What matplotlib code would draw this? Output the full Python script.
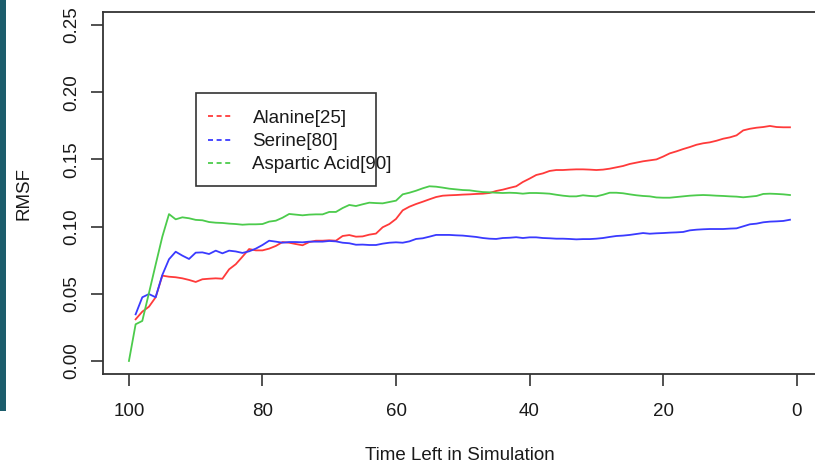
import numpy as np
import matplotlib
matplotlib.use("Agg")
import matplotlib.pyplot as plt
from matplotlib.patches import Rectangle
from matplotlib.lines import Line2D

plt.rcParams['font.family'] = ['Liberation Sans', 'DejaVu Sans']
plt.rcParams['lines.scale_dashes'] = False

# time remaining in the simulation (100 -> 1)
time_left = np.arange(100, 0, -1)

alanine_25 = [np.nan,
    0.0310, 0.0367, 0.0404, 0.0474, 0.0635, 0.0627, 0.0623, 0.0615, 0.0603, 0.0588,
    0.0608, 0.0612, 0.0615, 0.0612, 0.0682, 0.0720, 0.0776, 0.0833, 0.0823, 0.0823,
    0.0836, 0.0856, 0.0885, 0.0880, 0.0870, 0.0861, 0.0885, 0.0895, 0.0895, 0.0898,
    0.0895, 0.0930, 0.0937, 0.0925, 0.0927, 0.0940, 0.0948, 0.0995, 0.1019, 0.1057,
    0.1121, 0.1148, 0.1168, 0.1185, 0.1203, 0.1220, 0.1230, 0.1233, 0.1235, 0.1238,
    0.1240, 0.1243, 0.1245, 0.1250, 0.1265, 0.1275, 0.1288, 0.1300, 0.1332, 0.1357,
    0.1384, 0.1396, 0.1414, 0.1421, 0.1421, 0.1424, 0.1426, 0.1426, 0.1424, 0.1421,
    0.1424, 0.1431, 0.1441, 0.1451, 0.1466, 0.1476, 0.1486, 0.1493, 0.1500, 0.1521,
    0.1545, 0.1560, 0.1577, 0.1592, 0.1609, 0.1620, 0.1627, 0.1639, 0.1654, 0.1664,
    0.1679, 0.1716, 0.1728, 0.1736, 0.1741, 0.1749, 0.1741, 0.1739, 0.1739]

serine_80 = [np.nan,
    0.0347, 0.0474, 0.0498, 0.0474, 0.0640, 0.0757, 0.0813, 0.0784, 0.0759, 0.0806,
    0.0808, 0.0796, 0.0821, 0.0801, 0.0821, 0.0815, 0.0804, 0.0816, 0.0836, 0.0863,
    0.0895, 0.0888, 0.0880, 0.0885, 0.0885, 0.0883, 0.0888, 0.0888, 0.0888, 0.0893,
    0.0890, 0.0880, 0.0876, 0.0865, 0.0866, 0.0863, 0.0863, 0.0873, 0.0880, 0.0883,
    0.0880, 0.0890, 0.0908, 0.0913, 0.0925, 0.0938, 0.0938, 0.0938, 0.0935, 0.0933,
    0.0928, 0.0923, 0.0915, 0.0910, 0.0908, 0.0915, 0.0917, 0.0921, 0.0915, 0.0920,
    0.0920, 0.0915, 0.0913, 0.0910, 0.0910, 0.0908, 0.0905, 0.0907, 0.0907, 0.0910,
    0.0915, 0.0923, 0.0930, 0.0933, 0.0938, 0.0945, 0.0952, 0.0947, 0.0950, 0.0952,
    0.0955, 0.0957, 0.0960, 0.0972, 0.0977, 0.0980, 0.0982, 0.0982, 0.0982, 0.0985,
    0.0987, 0.1002, 0.1017, 0.1022, 0.1032, 0.1037, 0.1039, 0.1042, 0.1051]

aspartic_acid_90 = [
    0.0000, 0.0273, 0.0298, 0.0506, 0.0717, 0.0925, 0.1093, 0.1054, 0.1069, 0.1062,
    0.1050, 0.1047, 0.1034, 0.1029, 0.1027, 0.1022, 0.1019, 0.1014, 0.1017, 0.1017,
    0.1019, 0.1037, 0.1044, 0.1066, 0.1094, 0.1089, 0.1084, 0.1089, 0.1091, 0.1091,
    0.1109, 0.1109, 0.1138, 0.1161, 0.1153, 0.1166, 0.1178, 0.1175, 0.1173, 0.1183,
    0.1193, 0.1240, 0.1252, 0.1267, 0.1285, 0.1300, 0.1297, 0.1290, 0.1282, 0.1277,
    0.1272, 0.1270, 0.1263, 0.1257, 0.1255, 0.1252, 0.1250, 0.1252, 0.1250, 0.1245,
    0.1250, 0.1250, 0.1248, 0.1245, 0.1237, 0.1230, 0.1225, 0.1225, 0.1233, 0.1228,
    0.1225, 0.1237, 0.1252, 0.1252, 0.1248, 0.1240, 0.1233, 0.1228, 0.1225, 0.1217,
    0.1215, 0.1215, 0.1220, 0.1225, 0.1230, 0.1233, 0.1235, 0.1233, 0.1230, 0.1228,
    0.1225, 0.1223, 0.1218, 0.1223, 0.1228, 0.1243, 0.1245, 0.1243, 0.1240, 0.1235]

series_labels = ["Alanine[25]", "Serine[80]", "Aspartic Acid[90]"]
series_colors = ["#ff3a3a", "#3a3aff", "#4ccb4c"]

x_ticks = [100, 80, 60, 40, 20, 0]
y_ticks = [0.00, 0.05, 0.10, 0.15, 0.20, 0.25]
y_tick_labels = ["0.00", "0.05", "0.10", "0.15", "0.20", "0.25"]

W, H = 815, 465
FS = 13.5
AXC = "#333333"


def fpx(x, y):
    """pixel position (from top-left) -> figure fraction"""
    return x / W, 1 - y / H


fig = plt.figure(figsize=(W / 100, H / 100), dpi=100)
fig.patch.set_facecolor("white")

# dark side bar on the left edge
x0, y0 = fpx(0, 411)
fig.patches.append(Rectangle((x0, y0), 6 / W, 411 / H, transform=fig.transFigure,
                             facecolor="#1c5d6c", edgecolor="none"))

left, right, top, bottom = 102.5, 816.4, 11.6, 374.4
ax = fig.add_axes([left / W, 1 - bottom / H, (right - left) / W, (bottom - top) / H])

for vals, col in zip([alanine_25, serine_80, aspartic_acid_90], series_colors):
    ax.plot(time_left, vals, color=col, lw=1.3, solid_joinstyle="round")

ax.set_xlim(103.96, -2.96)
ax.set_ylim(-0.01, 0.26)
ax.set_xticks(x_ticks)
ax.set_xticklabels([str(v) for v in x_ticks])
ax.set_yticks(y_ticks)
ax.set_yticklabels(y_tick_labels)

for sp in ax.spines.values():
    sp.set_color(AXC)
    sp.set_linewidth(1.3)
ax.tick_params(axis="both", direction="out", length=8.6, width=1.2, color=AXC,
               labelsize=FS, labelcolor="#1a1a1a")
ax.tick_params(axis="x", pad=12.0)
ax.tick_params(axis="y", pad=7.5, labelrotation=90)
for lab in ax.get_yticklabels():
    lab.set_va("center")

# axis titles
fig.text(*fpx(459.5, 459.5), "Time Left in Simulation", ha="center", va="baseline",
         fontsize=FS, color="#1a1a1a")
fig.text(*fpx(29.0, 193.0), "RMSF", ha="center", va="baseline", rotation=90,
         rotation_mode="anchor", fontsize=FS, color="#1a1a1a")

# legend
lx0, ly0 = fpx(195.7, 186.0)
fig.patches.append(Rectangle((lx0, ly0), (376.0 - 195.7) / W, (186.0 - 93.3) / H,
                             transform=fig.transFigure, facecolor="none",
                             edgecolor=AXC, linewidth=1.2))
for i, (lab, col) in enumerate(zip(series_labels, series_colors)):
    yc = 116.5 + 23.0 * i
    xa, ya = fpx(208.0, yc)
    xb, _ = fpx(233.0, yc)
    fig.lines.append(Line2D([xa, xb], [ya, ya], transform=fig.transFigure, color=col,
                            lw=1.3, dashes=(3.6, 2.6)))
    fig.text(*fpx(252.5, yc + 6.7), lab, ha="left", va="baseline", fontsize=FS,
             color="#1a1a1a")

fig.savefig("out.png", dpi=100, facecolor="white")
